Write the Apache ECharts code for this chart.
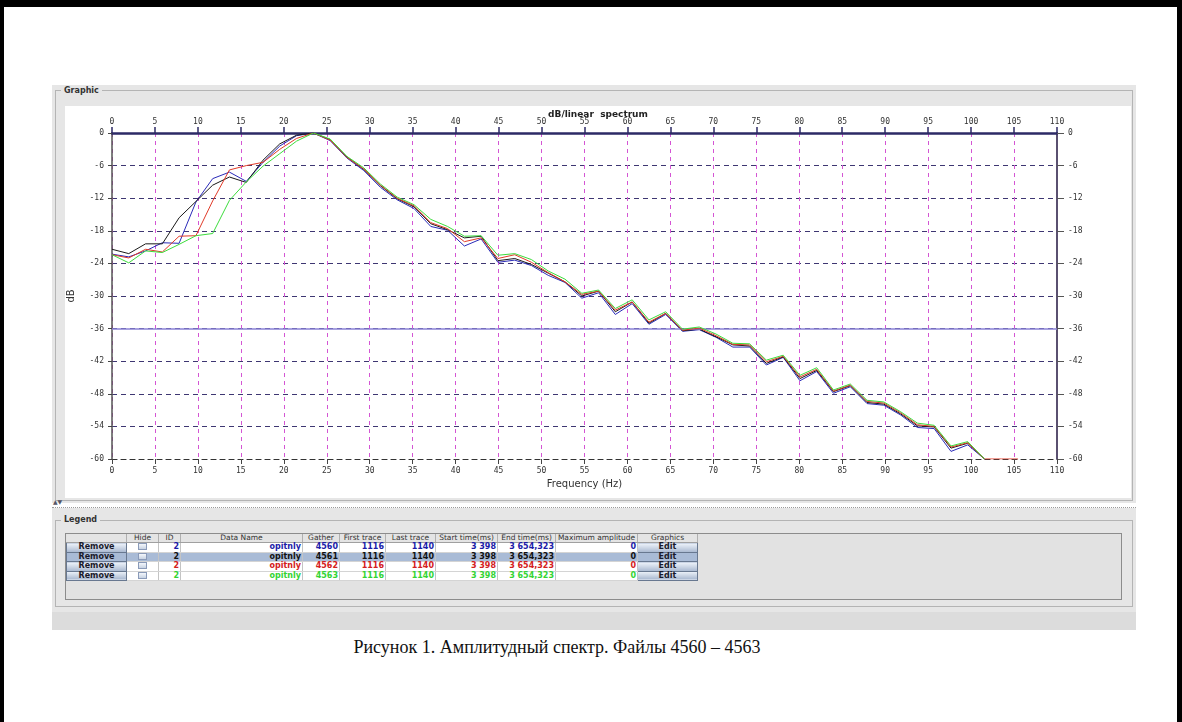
<!DOCTYPE html>
<html>
<head>
<meta charset="utf-8">
<title>Амплитудный спектр</title>
<script src="https://cdn.jsdelivr.net/npm/echarts@6.0.0/dist/echarts.min.js"></script>
<style>
html, body { margin: 0; padding: 0; }
body {
  width: 1182px; height: 722px; position: relative; overflow: hidden;
  background: #fff; font-family: "DejaVu Sans", sans-serif;
}
.frame {
  position: absolute; left: 0; top: 0; width: 1182px; height: 722px; box-sizing: border-box;
  border-top: 7px solid #000; border-left: 4px solid #000; border-right: 5px solid #000;
  pointer-events: none;
}
.panel { position: absolute; left: 52px; width: 1084px; background: #e6e6e6; }
.fieldset { position: absolute; left: 55px; width: 1078px; box-sizing: border-box; border: 1px solid #b4b4b4; }
.fs-label {
  position: absolute; left: 61px; padding: 0 3px; background: #e6e6e6;
  font-size: 8px; font-weight: bold; color: #333; line-height: 10px;
}
#chart { position: absolute; left: 65px; top: 106px; width: 1066px; height: 392px; background: #fff; }
.splitter { position: absolute; left: 52px; top: 503px; width: 1084px; height: 4px; border-bottom: 1px dotted #9a9a9a; }
.splitter span { position: absolute; left: 1px; top: -5px; font-size: 6px; color: #556; }
.tablebox {
  position: absolute; left: 65px; top: 533px; width: 1057px; height: 67px; box-sizing: border-box;
  border: 1px solid #8c8c8c; background: #e2e2e2;
}
table { position: absolute; left: 0; top: 0; border-collapse: collapse; table-layout: fixed; font-size: 7.5px; }
th { height: 8px; line-height: 8px; padding: 0 1px; font-weight: normal; color: #333; background: #e4e4e4; border-right: 1px solid #b0b0b0; border-bottom: 1px solid #a0a0a0; }
td { height: 8.5px; line-height: 8.5px; padding: 0 1px; font-weight: bold; font-size: 8px; text-align: right; border-right: 1px solid #c4c4c4; border-bottom: 1px solid #d4d4d4; background: #fff; }
tr.sel td { background: #a9bbd6; }
td.btn, th.btn { background: linear-gradient(#eef3fa, #a7b7cf); border: 1px solid #687890; color: #1a1a2a; text-align: center; }
td.chk { text-align: center; }
td.chk span { display: inline-block; width: 7px; height: 5px; border: 1px solid #8a9ab8; background: linear-gradient(#f4f7fb, #c8d3e3); vertical-align: middle; }
.status { position: absolute; left: 52px; top: 612px; width: 1084px; height: 18px; background: #dcdcdc; }
.caption {
  position: absolute; left: 0; top: 637px; width: 1114px; text-align: center;
  font-family: "Liberation Serif", "Times New Roman", serif; font-size: 18px; color: #111;
}
</style>
</head>
<body>
<!-- Graphic panel -->
<div class="panel" style="top:85px;height:418px;"></div>
<div class="fieldset" style="top:90px;height:411px;"></div>
<div class="fs-label" style="top:86px;">Graphic</div>
<div id="chart"></div>

<!-- Legend panel -->
<div class="splitter"><span>▲▼</span></div>
<div class="panel" style="top:508px;height:104px;"></div>
<div class="fieldset" style="top:520px;height:87px;"></div>
<div class="fs-label" style="top:515px;">Legend</div>
<div class="tablebox"><table id="legendTable"></table></div>
<div class="status"></div>

<div class="caption">Рисунок 1. Амплитудный спектр. Файлы 4560 – 4563</div>
<div class="frame"></div>

<script>
// частоты (Гц), шаг ~1.95 Гц
const freq = [0, 1.95, 3.91, 5.86, 7.81, 9.77, 11.72, 13.67, 15.63, 17.58, 19.53, 21.48,
  23.44, 25.39, 27.34, 29.3, 31.25, 33.2, 35.16, 37.11, 39.06, 41.02, 42.97, 44.92,
  46.88, 48.83, 50.78, 52.73, 54.69, 56.64, 58.59, 60.55, 62.5, 64.45, 66.41, 68.36,
  70.31, 72.27, 74.22, 76.17, 78.13, 80.08, 82.03, 83.98, 85.94, 87.89, 89.84, 91.8,
  93.75, 95.7, 97.66, 99.61, 101.56, 103.52, 105.47];

// спектры, дБ
const db4560 = [-22.3, -22.8, -21.7, -20.2, -20.3, -12.7, -8.4, -7.2, -8.9, -5.4, -2.4, -0.5,
  0, -1.4, -4.6, -6.9, -10.0, -12.3, -13.9, -17.2, -17.9, -20.8, -19.5, -23.8,
  -23.4, -24.4, -26.2, -27.5, -30.4, -29.4, -33.4, -31.4, -35.2, -33.4, -36.5, -36.2,
  -37.6, -39.4, -39.4, -42.7, -41.3, -45.6, -43.9, -47.9, -46.7, -49.8, -50.1, -51.9,
  -54.2, -54.4, -58.6, -57.4, -60];
const db4561 = [-21.4, -22.2, -20.4, -20.4, -15.6, -12.6, -9.6, -8.1, -9.1, -5.0, -2.0, -0.4,
  0, -1.2, -4.4, -6.7, -9.7, -12.1, -13.6, -16.7, -17.8, -19.3, -19.0, -23.5,
  -23.1, -24.2, -25.8, -27.4, -30.0, -29.1, -32.9, -31.1, -35.0, -33.2, -36.4, -36.1,
  -37.5, -39.0, -39.2, -42.4, -41.2, -45.2, -43.7, -47.6, -46.5, -49.6, -49.9, -51.7,
  -53.9, -54.1, -58.0, -57.1, -60];
const db4562 = [-22.4, -23.0, -21.4, -21.9, -19.0, -18.9, -12.5, -6.8, -6.0, -5.4, -3.0, -1.0,
  0, -1.3, -4.5, -6.6, -9.6, -12.0, -13.4, -16.5, -17.6, -20.0, -19.3, -23.1,
  -22.4, -23.8, -25.7, -27.4, -29.7, -29.1, -32.6, -31.1, -34.8, -33.2, -36.3, -35.9,
  -37.3, -38.9, -39.0, -42.1, -41.1, -44.9, -43.5, -47.5, -46.4, -49.4, -49.7, -51.5,
  -53.7, -54.0, -57.8, -57.0, -60, -60, -60];
const db4563 = [-22.4, -23.9, -21.7, -22.0, -20.5, -18.9, -18.5, -12.4, -9.0, -6.1, -3.8, -1.5,
  0, -1.1, -4.3, -6.4, -9.4, -11.8, -13.2, -15.9, -17.2, -19.0, -18.9, -22.5,
  -22.2, -23.3, -25.4, -26.9, -29.5, -28.9, -32.3, -30.7, -34.4, -32.9, -36.1, -35.7,
  -37.0, -38.7, -38.8, -41.8, -40.9, -44.6, -43.2, -47.3, -46.2, -49.2, -49.5, -51.3,
  -53.4, -53.8, -57.6, -56.8, -60];

// строки таблицы легенды
const gathers = [4560, 4561, 4562, 4563];
const rowColors = ['#1c1ca8', '#111111', '#d42020', '#33d433'];
const headers = ['', 'Hide', 'ID', 'Data Name', 'Gather', 'First trace', 'Last trace',
  'Start time(ms)', 'End time(ms)', 'Maximum amplitude', 'Graphics'];
const colWidths = [60, 32, 22, 122, 37, 46, 50, 62, 58, 82, 60];
const rowIds = [2, 2, 2, 2];
const dataNames = ['opitnly', 'opitnly', 'opitnly', 'opitnly'];
const firstTraces = [1116, 1116, 1116, 1116];
const lastTraces = [1140, 1140, 1140, 1140];
const startTimes = ['3 398', '3 398', '3 398', '3 398'];
const endTimes = ['3 654,323', '3 654,323', '3 654,323', '3 654,323'];
const maxAmps = [0, 0, 0, 0];

/** таблица легенды */
function buildTable() {
  const table = document.getElementById('legendTable');
  let html = '<colgroup>' + colWidths.map(w => `<col style="width:${w}px">`).join('') + '</colgroup>';
  html += '<tr>' + headers.map(h => `<th>${h}</th>`).join('') + '</tr>';
  gathers.forEach((g, i) => {
    const c = rowColors[i];
    html += `<tr${i === 1 ? ' class="sel"' : ''} style="color:${c}">` +
      '<td class="btn">Remove</td>' +
      '<td class="chk"><span></span></td>' +
      `<td>${rowIds[i]}</td><td>${dataNames[i]}</td><td>${g}</td>` +
      `<td>${firstTraces[i]}</td><td>${lastTraces[i]}</td>` +
      `<td>${startTimes[i]}</td><td>${endTimes[i]}</td><td>${maxAmps[i]}</td>` +
      '<td class="btn">Edit</td></tr>';
  });
  table.innerHTML = html;
}

function pairs(values) {
  return values.map((v, i) => [freq[i], v]);
}

const labelFont = { fontFamily: 'DejaVu Sans Mono', fontSize: 8, color: '#333' };
const seriesNames = ['4560', '4561', '4562', '4563'];
const seriesData = [db4560, db4561, db4562, db4563];
const lineColors = ['#2a2ab8', '#1a1a1a', '#e03a28', '#3ddc3d'];

function initChart() {
  const chart = echarts.init(document.getElementById('chart'), null, { renderer: 'canvas' });
  const series = seriesData.map((d, i) => ({
    name: seriesNames[i],
    type: 'line',
    data: pairs(d),
    showSymbol: false,
    lineStyle: { color: lineColors[i], width: 1 },
    itemStyle: { color: lineColors[i] },
    z: 3 + i
  }));
  // сплошная линия на -36 дБ
  series[0].markLine = {
    silent: true,
    symbol: 'none',
    label: { show: false },
    lineStyle: { color: '#8a82d6', width: 1.5, type: 'solid' },
    data: [{ yAxis: -36 }]
  };

  const option = {
    animation: false,
    title: {
      text: 'dB/linear  spectrum',
      left: 'center',
      top: -1,
      textStyle: { fontFamily: 'DejaVu Sans', fontSize: 9, fontWeight: 'bold', color: '#222' }
    },
    grid: { left: 47, right: 74, top: 27, bottom: 39, containLabel: false, outerBoundsMode: 'none' },
    xAxis: [
      {
        type: 'value', min: 0, max: 110, interval: 5, position: 'bottom',
        name: 'Frequency (Hz)', nameLocation: 'middle', nameGap: 19,
        nameTextStyle: { fontFamily: 'DejaVu Sans', fontSize: 10, color: '#333' },
        axisLine: { show: true, onZero: false, lineStyle: { color: '#333', width: 1.2, type: [5, 4] } },
        axisTick: { show: true, length: 5, lineStyle: { color: '#444' } },
        axisLabel: Object.assign({ margin: 8 }, labelFont),
        splitLine: { show: true, lineStyle: { color: '#d455d4', width: 1, type: [4, 4] } }
      },
      {
        type: 'value', min: 0, max: 110, interval: 5, position: 'top',
        axisLine: { show: true, onZero: false, lineStyle: { color: '#2c2a66', width: 2.5 } },
        axisTick: { show: true, length: 6, lineStyle: { color: '#2c2a66', width: 1.5 } },
        axisLabel: Object.assign({ margin: 7 }, labelFont),
        splitLine: { show: false }
      }
    ],
    yAxis: [
      {
        type: 'value', min: -60, max: 0, interval: 6, position: 'left',
        name: 'dB', nameLocation: 'middle', nameGap: 36, nameRotate: 90,
        nameTextStyle: { fontFamily: 'DejaVu Sans', fontSize: 10, color: '#333' },
        axisLine: { show: true, onZero: false, lineStyle: { color: '#555', width: 1.5 } },
        axisTick: { show: true, length: 4, lineStyle: { color: '#444' } },
        axisLabel: Object.assign({ margin: 8 }, labelFont),
        splitLine: { show: true, lineStyle: { color: '#3e3672', width: 1, type: [5, 4] } }
      },
      {
        type: 'value', min: -60, max: 0, interval: 6, position: 'right',
        axisLine: { show: true, onZero: false, lineStyle: { color: '#5a5070', width: 2 } },
        axisTick: { show: true, length: 7, lineStyle: { color: '#555' } },
        axisLabel: Object.assign({ margin: 11 }, labelFont),
        splitLine: { show: false }
      }
    ],
    series: series
  };
  chart.setOption(option);
}

buildTable();
initChart();
</script>
</body>
</html>
